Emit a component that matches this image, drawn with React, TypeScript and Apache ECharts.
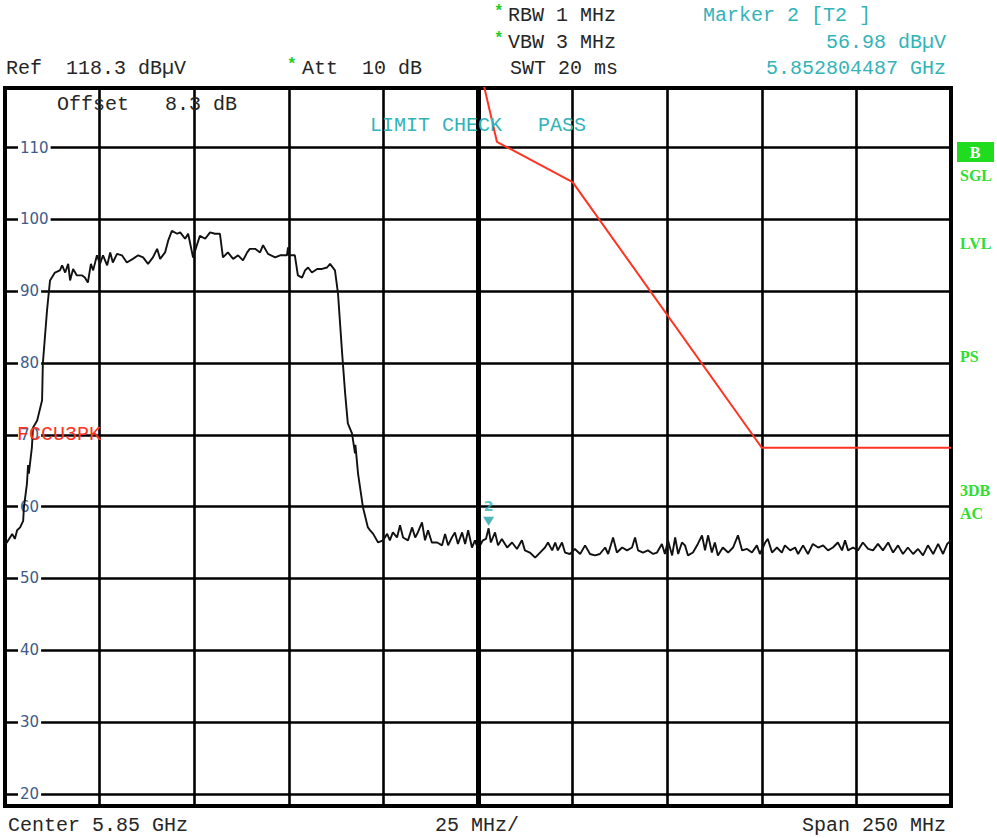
import React, { useEffect, useRef } from 'react';
import * as echarts from 'echarts';

// ---- data ----
const startMHz = 5725;
const stopMHz = 5975;
const centerMHz = 5850;
const stepMHz = 25;
const refLevel = 118.3;
const bottomLevel = 18.3;

const traceOffsetMHz = [
  0, 0.5, 1.9, 2.6, 3.2, 4.0, 4.8, 5.0, 5.8, 6.1, 6.3, 7.1, 7.4, 8.5, 9.8, 10.0, 11.1, 11.9,
  13.2, 14.5, 15.1, 15.9, 16.7, 17.2, 18.0, 19.0, 20.4, 21.1, 21.9, 22.7, 23.3, 24.3, 25.1,
  25.9, 27.0, 27.8, 28.5, 29.6, 30.9, 32.2, 33.8, 35.2, 36.5, 37.8, 39.1, 40.2, 41.0, 42.3,
  43.1, 44.1, 45.5, 46.3, 47.6, 48.4, 49.7, 50.7, 51.5, 52.9, 54.2, 55.5, 56.8, 57.6, 58.9,
  60.3, 61.6, 62.9, 64.0, 64.7, 66.1, 67.4, 68.2, 69.5, 71.4, 72.7, 74.5, 74.8, 75.0, 76.6,
  77.4, 78.5, 79.3, 80.1, 81.1, 82.5, 83.8, 85.1, 85.9, 87.2, 88.0, 89.1, 89.9, 90.6, 91.7,
  92.5, 92.6, 93.3, 94.6, 95.9, 96.5, 97.3, 98.6, 99.9, 101.0, 101.7, 102.5, 103.6, 104.4,
  105.2, 106.5, 107.6, 108.4, 109.1, 110.2, 111.0, 111.8, 112.8, 114.2, 115.5, 116.3, 117.1,
  118.1, 118.9, 119.7, 120.8, 121.6, 122.4, 123.4, 124.2, 125.0, 126.3, 127.1, 127.8, 128.4,
  129.5, 130.3, 131.3, 132.7, 134.0, 135.3, 136.6, 137.4, 138.7, 140.1, 141.4, 142.7, 143.5,
  144.6, 145.4, 146.1, 147.2, 148.0, 149.3, 150.6, 152.0, 153.3, 154.6, 155.9, 157.2, 158.6,
  159.4, 160.7, 161.7, 163.1, 164.4, 165.7, 166.5, 167.3, 168.6, 169.9, 171.3, 172.3, 173.6,
  174.4, 175.2, 176.3, 177.1, 177.9, 178.9, 179.7, 180.5, 181.8, 183.1, 184.2, 185.0, 185.8,
  186.8, 187.6, 188.4, 189.7, 191.1, 192.4, 193.7, 194.8, 196.1, 197.4, 198.7, 199.5, 200.9,
  201.6, 202.7, 204.0, 205.3, 206.1, 207.5, 208.8, 209.6, 210.9, 212.2, 213.5, 214.9, 216.2,
  217.5, 218.8, 220.1, 221.2, 222.0, 222.8, 224.1, 225.4, 226.7, 228.1, 229.4, 230.7, 232.0,
  233.4, 234.7, 236.0, 237.3, 238.6, 240.0, 241.3, 242.6, 243.9, 245.3, 246.6, 247.9, 249.0,
  250.0,
];

const traceLevel = [
  54.8, 55.0, 56.2, 55.5, 56.7, 57.1, 58.0, 59.9, 63.2, 65.8, 64.6, 68.2, 71.0, 72.0, 74.8, 79.9, 87.3, 91.5,
  92.6, 92.9, 93.6, 92.6, 93.8, 91.5, 93.1, 92.2, 92.2, 91.9, 91.2, 93.8, 92.9, 95.0, 93.8,
  95.0, 93.6, 95.4, 94.0, 95.2, 95.0, 94.0, 94.5, 95.0, 94.7, 93.8, 94.7, 95.9, 94.5, 95.4,
  97.0, 98.4, 98.0, 98.2, 97.3, 98.0, 94.7, 96.4, 97.7, 97.3, 98.2, 98.0, 98.0, 94.7, 95.4,
  94.5, 95.0, 94.3, 95.4, 95.9, 95.9, 95.4, 96.4, 95.2, 94.7, 95.0, 95.0, 96.1, 95.0, 95.0,
  92.2, 91.9, 92.9, 93.3, 92.6, 93.1, 93.1, 93.3, 93.8, 92.9, 89.7, 81.3, 75.7, 71.6, 70.2,
  67.4, 68.6, 64.6, 59.9, 57.1, 56.7, 56.2, 55.0, 55.3, 56.2, 55.3, 56.4, 55.7, 57.4,
  55.7, 55.3, 57.1, 55.7, 56.4, 57.8, 55.3, 56.7, 55.0, 55.0, 54.6, 56.2, 54.6,
  55.7, 56.4, 54.8, 56.4, 54.8, 56.7, 54.3, 55.3, 54.1, 55.3, 55.5, 56.98, 55.0,
  56.4, 54.6, 55.5, 54.3, 55.0, 54.1, 55.3, 53.9, 53.6, 52.9, 53.6, 54.3, 55.0,
  53.9, 55.0, 53.9, 55.0, 53.6, 53.4, 54.1, 53.4, 54.6, 53.4, 53.2, 53.4, 54.3,
  53.4, 55.7, 53.6, 54.3, 53.9, 54.3, 55.7, 53.9, 53.6, 53.9, 53.4, 53.6, 54.8,
  53.4, 55.3, 53.2, 55.7, 53.4, 55.0, 54.6, 53.2, 53.6, 54.8, 56.0, 53.9, 56.0,
  53.6, 55.0, 53.2, 54.3, 53.6, 54.3, 56.0, 53.9, 54.1, 53.6, 54.6, 53.4, 55.0,
  55.5, 53.6, 54.3, 53.6, 54.6, 53.9, 54.3, 53.4, 54.6, 53.4, 54.8, 54.3, 54.6,
  53.9, 54.3, 55.0, 53.9, 55.3, 53.9, 54.3, 53.9, 55.0, 54.1, 53.9, 54.8, 53.9,
  55.0, 53.6, 54.6, 53.4, 54.3, 53.4, 54.1, 53.2, 54.6, 53.4, 54.8, 53.4, 54.8,
  55.3,
];

const limitFreqMHz = [5850, 5855, 5875, 5925, 5975];
const limitLevel = [122.2, 110.8, 105.2, 68.2, 68.2];

const markerFreqMHz = 5852.804487;
const markerLevel = 56.98;

const headerLeft = ['Ref  118.3 dBµV', 'Att  10 dB', 'Offset   8.3 dB'];
const headerMid = ['RBW 1 MHz', 'VBW 3 MHz', 'SWT 20 ms'];
const markerTexts = ['Marker 2 [T2 ]', '56.98 dBµV', '5.852804487 GHz'];
const footerTexts = ['Center 5.85 GHz', '25 MHz/', 'Span 250 MHz'];
const limitTexts = ['LIMIT CHECK   PASS', 'FCCU3PK'];
const sideLabels = ['SGL', 'LVL', 'PS', '3DB', 'AC'];

// ---- styles ----
const MONO = '"Liberation Mono", "DejaVu Sans Mono", monospace';
const SERIF_B = 'bold 16px "Liberation Serif", "DejaVu Serif", serif';
const DARK = '#262626';
const TEAL = '#33b3b8';
const GREEN = '#2ede2e';

function txt(text: string, x: number, y: number, fill: string, align = 'left', font = `20px ${MONO}`) {
  return {
    type: 'text',
    x,
    y,
    z: 100,
    silent: true,
    style: {
      text,
      fill,
      font,
      textAlign: align,
      align,
      textVerticalAlign: 'middle',
      verticalAlign: 'middle',
    },
  };
}

function star(x: number, y: number) {
  return txt('*', x, y, '#22cc22', 'left', `bold 16px ${MONO}`);
}

export default function App() {
  const ref = useRef<HTMLDivElement>(null);

  useEffect(() => {
    if (!ref.current) return;
    const chart = echarts.init(ref.current, undefined, { renderer: 'svg' });

    const trace = traceOffsetMHz.map((o, i) => [startMHz + o, traceLevel[i]]);
    const limit = limitFreqMHz.map((f, i) => [f, limitLevel[i]]);

    const sideY = [175, 243, 356, 490, 513];

    const option: any = {
      animation: false,
      backgroundColor: '#ffffff',
      grid: {
        left: 5,
        right: 46,
        top: 88,
        bottom: 32,
        show: true,
        borderColor: '#000',
        borderWidth: 4,
        backgroundColor: '#fff',
      },
      xAxis: {
        type: 'value',
        min: startMHz,
        max: stopMHz,
        interval: stepMHz,
        axisLine: { show: false },
        axisTick: { show: false },
        axisLabel: { show: false },
        splitLine: { show: true, lineStyle: { color: '#000', width: 2.6 } },
      },
      yAxis: {
        type: 'value',
        min: bottomLevel,
        max: refLevel,
        splitNumber: 10,
        axisLine: { show: false },
        axisTick: { show: false },
        splitLine: { show: true, lineStyle: { color: '#000', width: 2.6 } },
        axisLabel: {
          inside: true,
          margin: 13,
          showMinLabel: false,
          showMaxLabel: false,
          color: '#3d5a8a',
          fontSize: 15,
          fontFamily: '"DejaVu Sans", Verdana, sans-serif',
          backgroundColor: '#fff',
          padding: [1, 2, 0, 2],
          formatter: (v: number) => {
            const r = Math.round(v);
            return Math.abs(v - r) < 1e-6 && r % 10 === 0 ? String(r) : '';
          },
        },
      },
      series: [
        {
          type: 'line',
          data: trace,
          showSymbol: false,
          symbol: 'none',
          z: 3,
          lineStyle: { color: '#111', width: 1.9 },
          markLine: {
            silent: true,
            symbol: 'none',
            label: { show: false },
            lineStyle: { color: '#000', width: 5, type: 'solid' },
            data: [{ xAxis: centerMHz }],
          },
        },
        {
          type: 'line',
          data: limit,
          showSymbol: false,
          symbol: 'none',
          clip: true,
          z: 4,
          lineStyle: { color: '#ff3322', width: 2 },
        },
        {
          type: 'scatter',
          data: [[markerFreqMHz, markerLevel]],
          symbol: 'triangle',
          symbolRotate: 180,
          symbolSize: [11, 9],
          symbolOffset: [0, -7],
          z: 5,
          itemStyle: { color: '#1fa3a8' },
          label: {
            show: true,
            position: 'top',
            distance: 4,
            formatter: '2',
            color: TEAL,
            fontSize: 14,
            fontWeight: 'bold',
            fontFamily: '"DejaVu Sans", sans-serif',
          },
        },
      ],
      graphic: [
        // header
        txt(headerLeft[0], 6, 68, DARK),
        star(287, 65),
        txt(headerLeft[1], 302, 68, DARK),
        star(494, 12),
        txt(headerMid[0], 508, 15, DARK),
        star(494, 39),
        txt(headerMid[1], 508, 42, DARK),
        txt(headerMid[2], 510, 68, DARK),
        txt(markerTexts[0], 703, 15, TEAL),
        txt(markerTexts[1], 946, 42, TEAL, 'right'),
        txt(markerTexts[2], 946, 68, TEAL, 'right'),
        // inside plot
        txt(headerLeft[2], 57, 104, DARK),
        txt(limitTexts[0], 370, 125, TEAL),
        txt(limitTexts[1], 17, 434, '#ff3322'),
        // footer
        txt(footerTexts[0], 8, 825, DARK),
        txt(footerTexts[1], 435, 825, DARK),
        txt(footerTexts[2], 946, 825, DARK, 'right'),
        // side panel
        {
          type: 'rect',
          z: 100,
          silent: true,
          shape: { x: 957, y: 142, width: 37, height: 20 },
          style: { fill: '#1fdc1f' },
        },
        txt('B', 975, 152, '#ffffff', 'center', SERIF_B),
        ...sideLabels.map((s, i) => txt(s, 960, sideY[i], GREEN, 'left', SERIF_B)),
      ],
    };

    chart.setOption(option);
    return () => chart.dispose();
  }, []);

  return (
    <div
      ref={ref}
      style={{ position: 'absolute', left: 0, top: 0, width: 997, height: 838, background: '#fff' }}
    />
  );
}
